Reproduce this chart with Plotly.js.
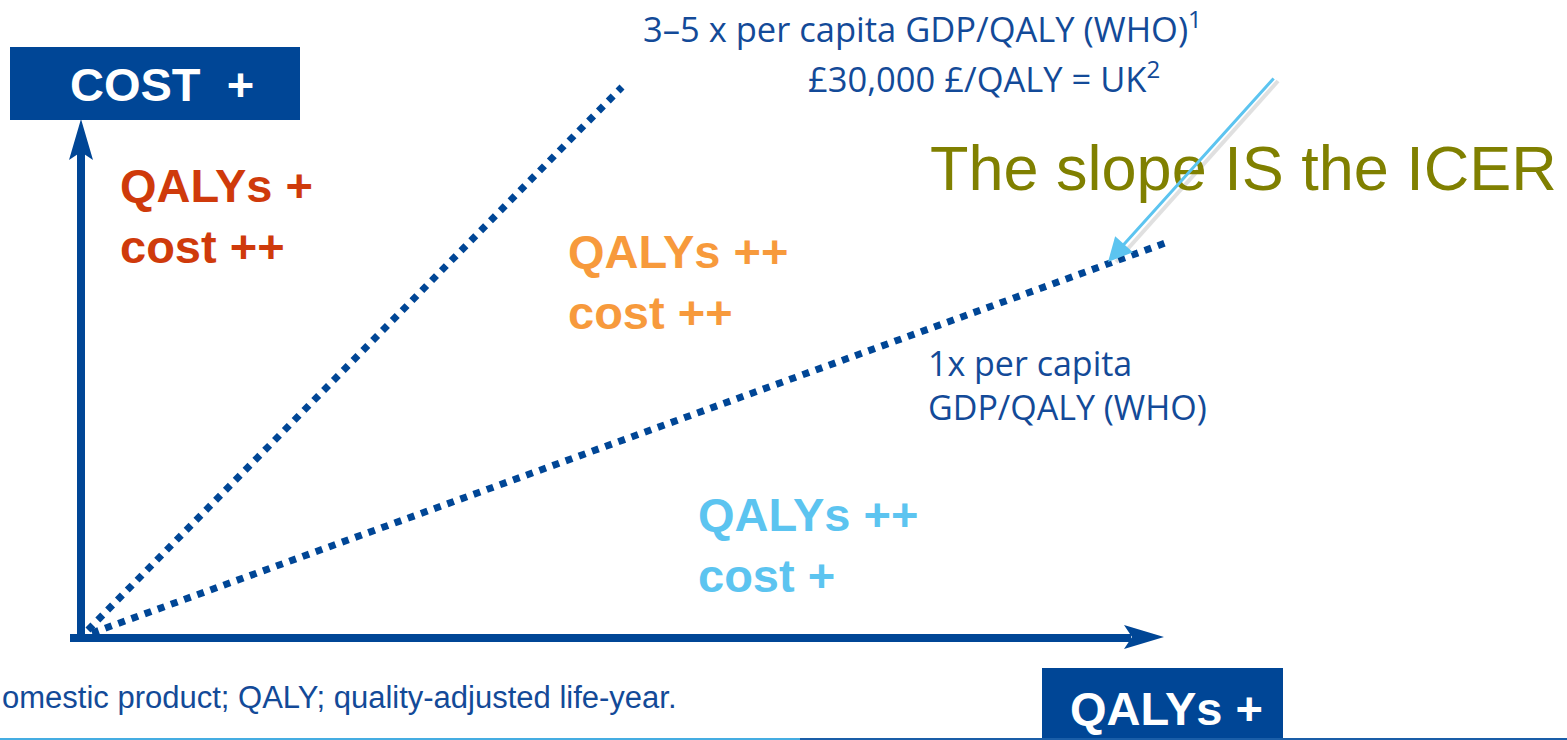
<!DOCTYPE html>
<html>
<head>
<meta charset="utf-8">
<script src="https://cdn.plot.ly/plotly-3.0.1.min.js"></script>
<style>html,body{margin:0;padding:0;background:#fff;overflow:hidden}#chart{width:1567px;height:740px}</style>
</head>
<body>
<div id="chart"></div>
<script>
// Cost-effectiveness plane (schematic): QALYs on x, cost on y
const costAxisX = [81, 81];
const costAxisY = [638, 152];
const qalyAxisX = [70, 1131];
const qalyAxisY = [638, 638];
// Willingness-to-pay threshold lines (slope = ICER)
const highThresholdX = [88, 622];
const highThresholdY = [630, 87];
const lowThresholdX = [92, 1168];
const lowThresholdY = [633, 242];

const quadrantLabels = ["QALYs +<br>cost ++", "QALYs ++<br>cost ++", "QALYs ++<br>cost +"];
const thresholdLabels = ["3–5 x per capita GDP/QALY (WHO)<sup>1</sup>", "£30,000 £/QALY = UK<sup>2</sup>", "1x per capita<br>GDP/QALY (WHO)"];
const axisLabels = ["COST  +", "QALYs +"];
const slopeNote = "The slope IS the ICER";
const footnote = "omestic product; QALY; quality-adjusted life-year.";

const DARK = '#004696';
const TXT = '#134a98';

const traces = [
  {x: costAxisX, y: costAxisY, mode: 'lines', line: {color: DARK, width: 8}, hoverinfo: 'skip'},
  {x: qalyAxisX, y: qalyAxisY, mode: 'lines', line: {color: DARK, width: 8}, hoverinfo: 'skip'},
  {x: highThresholdX, y: highThresholdY, mode: 'lines', line: {color: DARK, width: 7, dash: 'dot'}, hoverinfo: 'skip'},
  {x: lowThresholdX, y: lowThresholdY, mode: 'lines', line: {color: DARK, width: 7, dash: 'dot'}, hoverinfo: 'skip'}
];

const layout = {
  width: 1567, height: 740,
  margin: {l: 0, r: 0, t: 0, b: 0},
  paper_bgcolor: '#fff', plot_bgcolor: '#fff',
  showlegend: false,
  xaxis: {range: [0, 1567], visible: false, fixedrange: true},
  yaxis: {range: [740, 0], visible: false, fixedrange: true},
  shapes: [
    {type: 'rect', x0: 10, x1: 300, y0: 47, y1: 120, fillcolor: DARK, line: {width: 0}},
    {type: 'rect', x0: 1042, x1: 1283, y0: 668, y1: 745, fillcolor: DARK, line: {width: 0}},
    {type: 'path', path: 'M 81 119 L 69 160 L 81 152 L 93 160 Z', fillcolor: DARK, line: {width: 0}},
    {type: 'path', path: 'M 1164 637 L 1124 625 L 1132 637 L 1124 649 Z', fillcolor: DARK, line: {width: 0}},
    {type: 'line', x0: 0, x1: 800, y0: 739, y1: 739, line: {color: '#45ade2', width: 2}},
    {type: 'line', x0: 800, x1: 1567, y0: 739, y1: 739, line: {color: '#1a5ea8', width: 2}},
    {type: 'line', x0: 1278, y0: 81, x1: 1116, y1: 262, line: {color: 'rgba(0,0,0,0.12)', width: 4}}
  ],
  annotations: [
    {x: 162, y: 84, text: axisLabels[0], showarrow: false, xanchor: 'center', yanchor: 'middle',
     font: {family: 'Liberation Sans, Arial', size: 47, color: '#fff', weight: 'bold'}},
    {x: 1166, y: 708, text: axisLabels[1], showarrow: false, xanchor: 'center', yanchor: 'middle',
     font: {family: 'Liberation Sans, Arial', size: 47, color: '#fff', weight: 'bold'}},
    {x: 118, y: 216, text: quadrantLabels[0], showarrow: false, xanchor: 'left', yanchor: 'middle', align: 'left',
     font: {family: 'Liberation Sans, Arial', size: 47, color: '#cf3a0b', weight: 'bold'}},
    {x: 566, y: 282, text: quadrantLabels[1], showarrow: false, xanchor: 'left', yanchor: 'middle', align: 'left',
     font: {family: 'Liberation Sans, Arial', size: 47, color: '#f79a3c', weight: 'bold'}},
    {x: 696, y: 545, text: quadrantLabels[2], showarrow: false, xanchor: 'left', yanchor: 'middle', align: 'left',
     font: {family: 'Liberation Sans, Arial', size: 47, color: '#5cc4f0', weight: 'bold'}},
    {x: 928, y: 168, text: slopeNote, showarrow: false, xanchor: 'left', yanchor: 'middle',
     font: {family: 'Liberation Sans, Arial', size: 63, color: '#808000'}},
    {x: 641, y: 27, text: thresholdLabels[0], showarrow: false, xanchor: 'left', yanchor: 'middle',
     font: {family: 'Open Sans', size: 34.5, color: TXT}},
    {x: 806, y: 77, text: thresholdLabels[1], showarrow: false, xanchor: 'left', yanchor: 'middle',
     font: {family: 'Open Sans', size: 34.5, color: TXT}},
    {x: 926, y: 385, text: thresholdLabels[2], showarrow: false, xanchor: 'left', yanchor: 'middle', align: 'left',
     font: {family: 'Open Sans', size: 34, color: TXT}},
    {x: 0, xref: 'paper', y: 697, text: footnote, showarrow: false, xanchor: 'left', yanchor: 'middle',
     font: {family: 'Liberation Sans, Arial', size: 31, color: TXT}},
    {x: 1108, y: 262, ax: 1275, ay: 77, axref: 'x', ayref: 'y', text: '', showarrow: true,
     arrowhead: 2, arrowsize: 1.6, arrowwidth: 3, arrowcolor: '#5cc4f0'}
  ]
};

Plotly.newPlot('chart', traces, layout, {staticPlot: true, displayModeBar: false});
</script>
</body>
</html>
